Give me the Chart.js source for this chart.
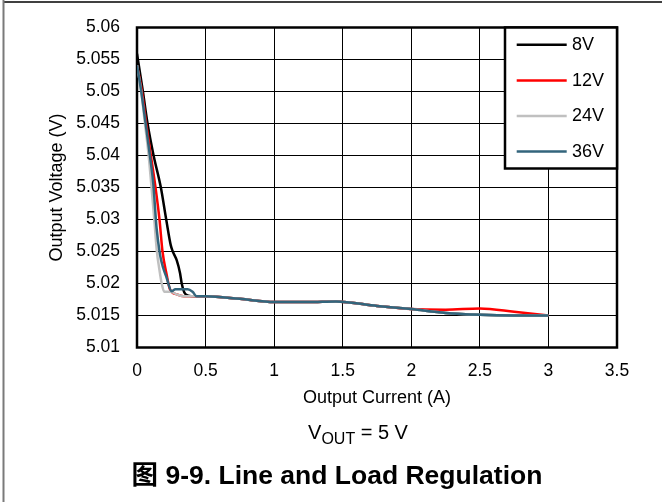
<!DOCTYPE html>
<html>
<head>
<meta charset="utf-8">
<script src="https://cdn.jsdelivr.net/npm/chart.js@4"></script>
<style>
  html, body { margin: 0; padding: 0; background: #fff; }
  #wrap { width: 662px; height: 502px; position: relative; }
</style>
</head>
<body>
<div id="wrap"><canvas id="c" width="662" height="502"></canvas></div>
<script>
// ---- data ----
const seriesLabels = ['8V', '12V', '24V', '36V'];
const seriesColors = ['#000000', '#ff0000', '#c0c0c0', '#33657c'];

const i8  = [0, 0.043, 0.077, 0.121, 0.174, 0.213, 0.246, 0.261, 0.29, 0.314, 0.326, 0.345, 0.374, 0.42, 0.5, 0.75, 1.0, 1.25, 1.45, 1.75, 2.0, 2.25, 2.5, 2.75, 3.0];
const v8  = [5.0559, 5.05, 5.045, 5.04, 5.035, 5.03, 5.026, 5.025, 5.0236, 5.0216, 5.02, 5.0186, 5.0181, 5.018, 5.018, 5.0176, 5.0171, 5.0171, 5.0172, 5.0165, 5.016, 5.0154, 5.0151, 5.015, 5.015];

const i12 = [0, 0.036, 0.067, 0.101, 0.135, 0.164, 0.186, 0.216, 0.24, 0.29, 0.34, 0.42, 0.5, 0.75, 1.0, 1.25, 1.45, 1.75, 2.0, 2.25, 2.5, 2.75, 3.0];
const v12 = [5.0541, 5.05, 5.045, 5.04, 5.035, 5.03, 5.025, 5.0214, 5.0191, 5.0183, 5.018, 5.018, 5.018, 5.0176, 5.0171, 5.0171, 5.0172, 5.0165, 5.016, 5.0159, 5.0161, 5.0156, 5.015];

const i24 = [0, 0.031, 0.058, 0.085, 0.106, 0.126, 0.145, 0.161, 0.18, 0.199, 0.241, 0.29, 0.34, 0.42, 0.5, 0.75, 1.0, 1.25, 1.45, 1.75, 2.0, 2.25, 2.5, 2.75, 3.0];
const v24 = [5.0541, 5.05, 5.045, 5.04, 5.035, 5.03, 5.025, 5.0225, 5.02, 5.0187, 5.0187, 5.0183, 5.018, 5.018, 5.018, 5.0176, 5.0171, 5.0171, 5.0172, 5.0165, 5.016, 5.0154, 5.0151, 5.015, 5.015];

const i36 = [0, 0.031, 0.063, 0.094, 0.119, 0.143, 0.168, 0.19, 0.216, 0.252, 0.28, 0.37, 0.405, 0.435, 0.5, 0.75, 1.0, 1.25, 1.45, 1.75, 2.0, 2.25, 2.5, 2.75, 3.0];
const v36 = [5.0541, 5.05, 5.045, 5.04, 5.0355, 5.0286, 5.0245, 5.0225, 5.0209, 5.0188, 5.0191, 5.0191, 5.0187, 5.018, 5.018, 5.0176, 5.0171, 5.0171, 5.0172, 5.0165, 5.016, 5.0154, 5.0151, 5.015, 5.015];

const xTickLabels = ['0', '0.5', '1', '1.5', '2', '2.5', '3', '3.5'];
const yTickLabels = ['5.01', '5.015', '5.02', '5.025', '5.03', '5.035', '5.04', '5.045', '5.05', '5.055', '5.06'];

const xTitle = 'Output Current (A)';
const yTitle = 'Output Voltage (V)';
const noteMain = 'V', noteSub = 'OUT', noteRest = ' = 5 V';
const caption = '图 9-9. Line and Load Regulation';

// ---- build ----
const FONT = '"Liberation Sans", Arial, "Noto Sans CJK SC", sans-serif';
const pts = (xs, ys) => xs.map((x, k) => ({ x: x, y: ys[k] }));
const allX = [i8, i12, i24, i36];
const allY = [v8, v12, v24, v36];

const datasets = seriesLabels.map((lab, k) => ({
  label: lab,
  data: pts(allX[k], allY[k]),
  borderColor: seriesColors[k],
  backgroundColor: seriesColors[k],
  borderWidth: 2.5,
  pointRadius: 0,
  cubicInterpolationMode: 'monotone',
  fill: false,
  order: seriesLabels.length - 1 - k
}));

const decor = {
  id: 'decor',
  beforeDraw(chart) {
    const ctx = chart.ctx;
    ctx.save();
    ctx.fillStyle = '#fff';
    ctx.fillRect(0, 0, chart.width, chart.height);
    ctx.strokeStyle = '#000';
    ctx.lineWidth = 1.5;
    ctx.beginPath(); ctx.moveTo(3, 2); ctx.lineTo(chart.width, 2); ctx.stroke();
    ctx.strokeStyle = '#7a7a7a';
    ctx.lineWidth = 2;
    ctx.beginPath(); ctx.moveTo(3.5, 0); ctx.lineTo(3.5, chart.height); ctx.stroke();
    ctx.restore();
  },
  beforeDatasetsDraw(chart) {
    const a = chart.chartArea, ctx = chart.ctx;
    ctx.save();
    ctx.strokeStyle = '#000';
    ctx.lineWidth = 2.5;
    ctx.strokeRect(a.left, a.top, a.right - a.left, a.bottom - a.top);
    ctx.restore();
  },
  afterDatasetsDraw(chart) {
    const a = chart.chartArea, ctx = chart.ctx;
    // legend box in the top-right corner of the plot
    const bx = a.right - 112, by = a.top, bw = 112, bh = 141;
    ctx.save();
    ctx.fillStyle = '#fff';
    ctx.fillRect(bx, by, bw, bh);
    ctx.strokeStyle = '#000';
    ctx.lineWidth = 2.5;
    ctx.strokeRect(bx, by, bw, bh);
    ctx.font = '18px ' + FONT;
    ctx.textBaseline = 'middle';
    ctx.textAlign = 'left';
    chart.data.datasets.forEach((ds, k) => {
      const y = by + 17.3 + k * 35.6;
      ctx.strokeStyle = ds.borderColor;
      ctx.lineWidth = 2.5;
      ctx.beginPath(); ctx.moveTo(bx + 11.7, y); ctx.lineTo(bx + 61.7, y); ctx.stroke();
      ctx.fillStyle = '#000';
      ctx.fillText(ds.label, bx + 67, y + 0.5);
    });
    ctx.restore();
  },
  afterDraw(chart) {
    const ctx = chart.ctx;
    ctx.save();
    ctx.fillStyle = '#000';
    ctx.textBaseline = 'alphabetic';
    ctx.textAlign = 'left';
    // V_OUT = 5 V
    const fMain = '20px ' + FONT, fSub = '16px ' + FONT;
    ctx.font = fMain; const w1 = ctx.measureText(noteMain).width, w3 = ctx.measureText(noteRest).width;
    ctx.font = fSub; const w2 = ctx.measureText(noteSub).width;
    let x = 358 - (w1 + w2 + w3) / 2;
    ctx.font = fMain; ctx.fillText(noteMain, x, 438.5); x += w1;
    ctx.font = fSub; ctx.fillText(noteSub, x, 443.5); x += w2;
    ctx.font = fMain; ctx.fillText(noteRest, x, 438.5);
    // caption
    ctx.font = 'bold 26.5px ' + FONT;
    ctx.textAlign = 'center';
    ctx.fillText(caption, 337, 483.5);
    ctx.restore();
  }
};

new Chart(document.getElementById('c'), {
  type: 'line',
  data: { datasets: datasets },
  options: {
    responsive: false,
    animation: false,
    events: [],
    layout: { padding: { left: 0, right: 45, top: 21.7, bottom: 93.2 } },
    plugins: { legend: { display: false }, tooltip: { enabled: false } },
    scales: {
      x: {
        type: 'linear',
        min: 0, max: 3.5,
        ticks: {
          stepSize: 0.5,
          padding: 13,
          color: '#000',
          font: { family: FONT, size: 17.5 },
          maxRotation: 0,
          autoSkip: false,
          callback: (v, i) => xTickLabels[i]
        },
        grid: { color: '#000', lineWidth: 1, drawTicks: false },
        border: { display: false },
        title: {
          display: true, text: xTitle, color: '#000',
          font: { family: FONT, size: 18 },
          padding: { top: 0, bottom: 0 }
        },
        afterFit: (s) => { s.height = 61.3; }
      },
      y: {
        type: 'linear',
        min: 5.01, max: 5.06,
        ticks: {
          stepSize: 0.005,
          padding: 17,
          color: '#000',
          font: { family: FONT, size: 17.5 },
          autoSkip: false,
          callback: (v, i) => yTickLabels[i]
        },
        grid: { color: '#000', lineWidth: 1, drawTicks: false },
        border: { display: false },
        title: {
          display: true, text: yTitle, color: '#000',
          font: { family: FONT, size: 18 },
          padding: { top: 46.2, bottom: 0 }
        },
        afterFit: (s) => { s.width = 137; }
      }
    }
  },
  plugins: [decor]
});
</script>
</body>
</html>
